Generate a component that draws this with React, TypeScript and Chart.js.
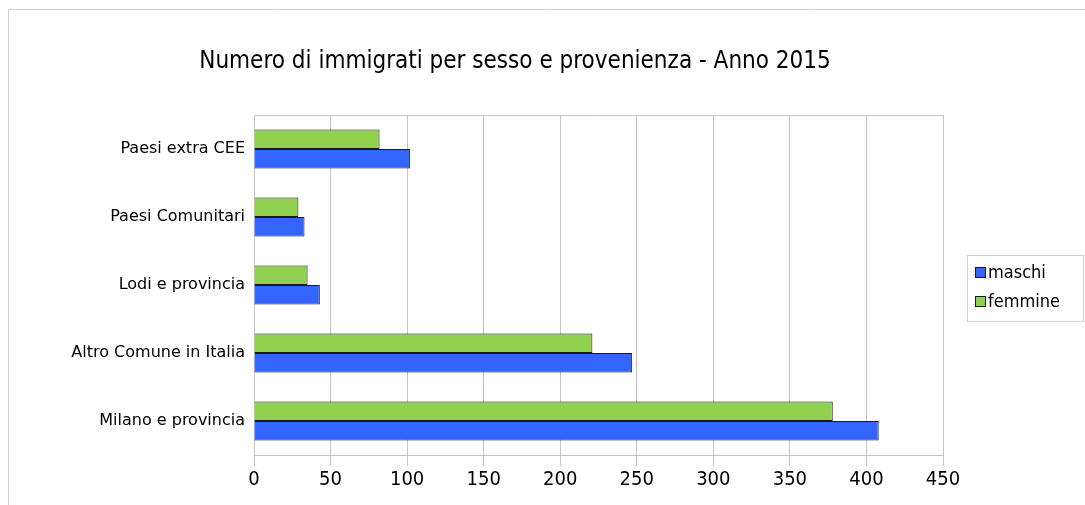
import React, { useEffect, useRef } from "react";
import { Chart, registerables } from "chart.js";

Chart.register(...registerables);

const categories = [
  "Paesi extra CEE",
  "Paesi Comunitari",
  "Lodi e provincia",
  "Altro Comune in Italia",
  "Milano e provincia",
];
const maschi = [102, 33, 43, 247, 408];
const femmine = [82, 29, 35, 221, 378];
const seriesNames = ["maschi", "femmine"];
const titleText = "Numero di immigrati per sesso e provenienza - Anno 2015";
const xMin = 0;
const xMax = 450;
const xStep = 50;

const BLUE = "#3366ff";
const GREEN = "#92d050";
const GRID = "#c4c4c4";
const FONT = "'DejaVu Sans Condensed', 'DejaVu Sans', sans-serif";
const FONT_REG = "'DejaVu Sans', sans-serif";

const framePlugin = {
  id: "frame",
  beforeDraw(chart: any) {
    const ctx = chart.ctx;
    ctx.save();
    ctx.strokeStyle = "#cfcfcf";
    ctx.lineWidth = 1;
    ctx.beginPath();
    ctx.moveTo(8.5, chart.height);
    ctx.lineTo(8.5, 9.5);
    ctx.lineTo(chart.width, 9.5);
    ctx.stroke();
    ctx.restore();
  },
  afterDraw(chart: any) {
    const ctx = chart.ctx;
    const a = chart.chartArea;
    ctx.save();
    ctx.strokeStyle = GRID;
    ctx.lineWidth = 1;
    ctx.beginPath();
    ctx.moveTo(a.left, Math.round(a.top) + 0.5);
    ctx.lineTo(a.right, Math.round(a.top) + 0.5);
    ctx.stroke();
    ctx.fillStyle = "#000";
    ctx.font = `24px ${FONT}`;
    ctx.textAlign = "center";
    ctx.textBaseline = "middle";
    ctx.fillText(titleText, 515, 62);
    const bx = 967.5, by = 255.5, bw = 116, bh = 66;
    ctx.strokeStyle = "#d0d0d0";
    ctx.strokeRect(bx, by, bw, bh);
    const ds = chart.data.datasets;
    const order = [1, 0];
    ctx.font = `18px ${FONT}`;
    ctx.textAlign = "left";
    order.forEach((di, i) => {
      const d = ds[di];
      const cy = 273 + i * 29;
      ctx.fillStyle = d.backgroundColor;
      ctx.fillRect(975.5, cy - 5.5, 10, 10);
      ctx.strokeStyle = "#1a1a1a";
      ctx.strokeRect(975.5, cy - 5.5, 10, 10);
      ctx.fillStyle = "#000";
      ctx.fillText(d.label, 988, cy);
    });
    ctx.restore();
  },
};

export default function App() {
  const ref = useRef<HTMLCanvasElement>(null);
  useEffect(() => {
    if (!ref.current) return;
    const chart = new Chart(ref.current, {
      type: "bar",
      data: {
        labels: categories,
        datasets: [
          {
            label: seriesNames[1],
            data: femmine,
            backgroundColor: GREEN,
            borderColor: "#1a1a1a",
            borderWidth: 1,
            barPercentage: 1,
            categoryPercentage: 0.57,
          },
          {
            label: seriesNames[0],
            data: maschi,
            backgroundColor: BLUE,
            borderColor: "#1a1a1a",
            borderWidth: 1,
            barPercentage: 1,
            categoryPercentage: 0.57,
          },
        ],
      },
      options: {
        indexAxis: "y",
        responsive: false,
        animation: false,
        layout: { padding: { left: 0, top: 115, right: 142, bottom: 0 } },
        plugins: {
          legend: { display: false },
          title: { display: false },
          tooltip: { enabled: false },
        },
        scales: {
          x: {
            min: xMin,
            max: xMax,
            ticks: {
              stepSize: xStep,
              color: "#000",
              font: { family: FONT, size: 20 },
              padding: 2,
            },
            grid: { color: GRID, tickLength: 11, drawTicks: true },
            border: { color: GRID },
            afterFit(scale: any) {
              scale.height = 50;
            },
          },
          y: {
            ticks: {
              color: "#000",
              font: { family: FONT_REG, size: 16 },
              padding: 9,
            },
            grid: { display: false, drawTicks: false },
            border: { color: GRID },
            afterFit(scale: any) {
              scale.width = 254;
            },
          },
        },
      },
      plugins: [framePlugin],
    });
    return () => chart.destroy();
  }, []);
  return (
    <div style={{ position: "absolute", left: 0, top: 0, width: 1085, height: 505, background: "#fff" }}>
      <canvas ref={ref} width={1085} height={505} />
    </div>
  );
}
